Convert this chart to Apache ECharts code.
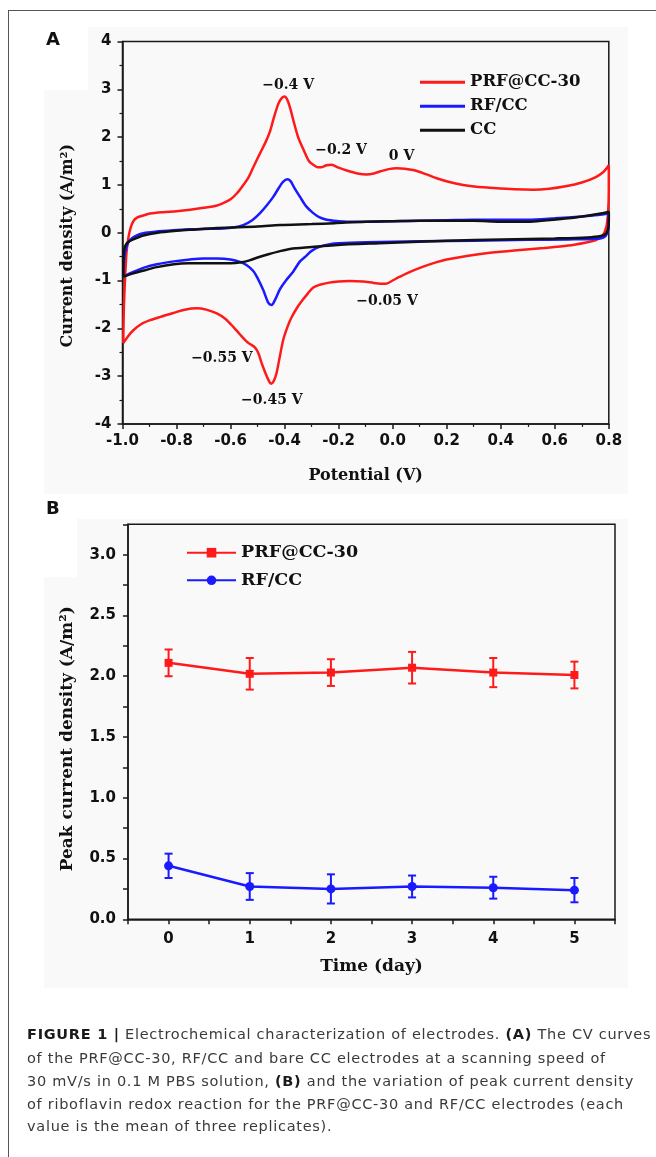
<!DOCTYPE html>
<html>
<head>
<meta charset="utf-8">
<script src="https://cdn.jsdelivr.net/npm/echarts@6/dist/echarts.min.js"></script>
<style>
html,body{margin:0;padding:0;background:#fff;}
#wrap{position:relative;width:656px;height:1157px;overflow:hidden;background:#fff;}
#chart{position:absolute;left:0;top:0;width:656px;height:1157px;}
.frame-top{position:absolute;left:8px;top:10px;width:648px;height:1px;background:#555;}
.frame-left{position:absolute;left:8px;top:10px;width:1px;height:1147px;background:#555;}
.cap{position:absolute;left:27px;white-space:nowrap;font-family:"DejaVu Sans",sans-serif;font-size:14.5px;letter-spacing:0.72px;color:#3a3a3a;line-height:23px;}
.cap b{color:#1a1a1a;}
</style>
</head>
<body>
<div id="wrap">
  <div id="chart"></div>
  <div class="frame-top"></div>
  <div class="frame-left"></div>
  <div class="cap" style="top:1023px"><b>FIGURE 1 |</b> Electrochemical characterization of electrodes. <b>(A)</b> The CV curves</div>
  <div class="cap" style="top:1047px">of the PRF@CC-30, RF/CC and bare CC electrodes at a scanning speed of</div>
  <div class="cap" style="top:1070px">30 mV/s in 0.1 M PBS solution, <b>(B)</b> and the variation of peak current density</div>
  <div class="cap" style="top:1093px">of riboflavin redox reaction for the PRF@CC-30 and RF/CC electrodes (each</div>
  <div class="cap" style="top:1115px">value is the mean of three replicates).</div>
</div>
<script>
// ---------- Panel A: CV curves (potential V, current density A/m^2) ----------
const prfCV = [
  [-0.997,-2.31],[-0.995,-1.6],[-0.99,-0.9],[-0.985,-0.4],[-0.978,-0.1],[-0.97,0.1],[-0.96,0.24],
  [-0.945,0.32],[-0.923,0.36],[-0.898,0.40],[-0.85,0.43],[-0.8,0.45],[-0.75,0.48],[-0.7,0.52],
  [-0.65,0.57],[-0.627,0.62],[-0.6,0.7],[-0.577,0.82],[-0.555,0.98],[-0.534,1.15],[-0.515,1.38],
  [-0.491,1.66],[-0.47,1.9],[-0.454,2.12],[-0.44,2.4],[-0.423,2.7],[-0.41,2.82],[-0.4,2.85],
  [-0.39,2.78],[-0.378,2.58],[-0.368,2.36],[-0.35,2.0],[-0.331,1.75],[-0.31,1.5],[-0.294,1.42],
  [-0.278,1.37],[-0.263,1.37],[-0.245,1.41],[-0.226,1.42],[-0.2,1.36],[-0.17,1.3],[-0.13,1.24],
  [-0.096,1.22],[-0.07,1.24],[-0.047,1.28],[-0.015,1.33],[0.015,1.35],[0.045,1.34],[0.076,1.31],
  [0.12,1.23],[0.163,1.14],[0.21,1.06],[0.261,1.0],[0.31,0.96],[0.36,0.94],[0.45,0.91],[0.52,0.9],
  [0.58,0.92],[0.64,0.97],[0.7,1.05],[0.75,1.16],[0.78,1.27],[0.8,1.41],
  [0.8,0.9],[0.797,0.4],[0.79,0.1],[0.775,-0.08],[0.75,-0.16],[0.72,-0.2],
  [0.65,-0.27],[0.56,-0.32],[0.45,-0.37],[0.36,-0.42],[0.28,-0.48],[0.2,-0.56],[0.16,-0.62],
  [0.113,-0.71],[0.06,-0.83],[0.027,-0.92],[0.0,-1.0],[-0.02,-1.06],[-0.035,-1.07],[-0.07,-1.05],
  [-0.11,-1.02],[-0.16,-1.01],[-0.2,-1.02],[-0.24,-1.05],[-0.27,-1.09],[-0.295,-1.15],[-0.315,-1.28],
  [-0.335,-1.42],[-0.355,-1.58],[-0.375,-1.78],[-0.39,-1.98],[-0.405,-2.24],[-0.418,-2.6],
  [-0.43,-2.94],[-0.44,-3.1],[-0.45,-3.16],[-0.46,-3.08],[-0.47,-2.95],[-0.485,-2.73],[-0.497,-2.52],
  [-0.51,-2.4],[-0.525,-2.34],[-0.54,-2.28],[-0.565,-2.13],[-0.59,-1.97],[-0.62,-1.8],[-0.651,-1.69],
  [-0.69,-1.61],[-0.725,-1.58],[-0.77,-1.61],[-0.812,-1.68],[-0.86,-1.76],[-0.898,-1.83],
  [-0.93,-1.91],[-0.96,-2.04],[-0.98,-2.17],[-0.997,-2.31]
];
const rfCV = [
  [-0.997,-0.92],[-0.995,-0.6],[-0.99,-0.4],[-0.98,-0.22],[-0.966,-0.12],[-0.945,-0.05],[-0.923,-0.01],
  [-0.88,0.02],[-0.812,0.05],[-0.75,0.07],[-0.7,0.08],[-0.627,0.09],[-0.59,0.11],[-0.553,0.16],
  [-0.52,0.26],[-0.491,0.41],[-0.465,0.58],[-0.442,0.75],[-0.42,0.95],[-0.405,1.07],[-0.39,1.12],
  [-0.378,1.08],[-0.365,0.95],[-0.343,0.75],[-0.32,0.55],[-0.294,0.41],[-0.27,0.32],[-0.244,0.27],
  [-0.2,0.24],[-0.17,0.23],[-0.1,0.23],[0.0,0.24],[0.1,0.25],[0.2,0.26],[0.3,0.27],[0.4,0.27],
  [0.5,0.27],[0.6,0.3],[0.7,0.34],[0.76,0.37],[0.8,0.4],
  [0.8,0.2],[0.795,0.0],[0.78,-0.1],[0.74,-0.13],[0.65,-0.14],
  [0.5,-0.15],[0.3,-0.17],[0.1,-0.18],[-0.1,-0.2],[-0.2,-0.22],[-0.232,-0.24],[-0.269,-0.29],
  [-0.3,-0.38],[-0.323,-0.5],[-0.343,-0.6],[-0.369,-0.82],[-0.395,-1.0],[-0.417,-1.18],
  [-0.435,-1.4],[-0.448,-1.51],[-0.46,-1.47],[-0.479,-1.2],[-0.5,-0.95],[-0.516,-0.8],[-0.54,-0.68],
  [-0.565,-0.61],[-0.6,-0.56],[-0.651,-0.54],[-0.7,-0.54],[-0.75,-0.56],[-0.81,-0.6],[-0.873,-0.66],
  [-0.92,-0.73],[-0.96,-0.82],[-0.997,-0.92]
];
const ccCV = [
  [-0.997,-0.92],[-0.997,-0.6],[-0.995,-0.4],[-0.99,-0.28],[-0.98,-0.2],[-0.96,-0.14],[-0.923,-0.06],
  [-0.87,0.0],[-0.8,0.04],[-0.75,0.06],[-0.65,0.1],[-0.5,0.13],[-0.417,0.16],[-0.3,0.18],
  [-0.215,0.2],[-0.1,0.23],[0.0,0.24],[0.1,0.25],[0.2,0.25],[0.3,0.25],[0.4,0.23],[0.5,0.23],
  [0.57,0.26],[0.65,0.3],[0.715,0.35],[0.77,0.4],[0.8,0.44],
  [0.8,0.25],[0.798,0.1],[0.79,-0.02],[0.77,-0.07],[0.72,-0.1],
  [0.6,-0.12],[0.405,-0.14],[0.2,-0.17],[0.095,-0.19],[-0.05,-0.22],[-0.215,-0.26],[-0.3,-0.3],
  [-0.38,-0.34],[-0.42,-0.39],[-0.46,-0.45],[-0.5,-0.52],[-0.53,-0.58],[-0.56,-0.62],[-0.6,-0.64],
  [-0.7,-0.64],[-0.757,-0.64],[-0.81,-0.66],[-0.873,-0.72],[-0.92,-0.79],[-0.96,-0.85],[-0.997,-0.92]
];
const cvNames = ['PRF@CC-30', 'RF/CC', 'CC'];
const annoLabels = ['\u22120.4 V', '\u22120.2 V', '0 V', '\u22120.05 V', '\u22120.55 V', '\u22120.45 V'];
const annoX = [-0.387, -0.191, 0.033, -0.021, -0.632, -0.447];
const annoY = [3.09, 1.73, 1.59, -1.43, -2.63, -3.51];

// ---------- Panel B: peak current density over time ----------
const days = [0, 1, 2, 3, 4, 5];
const prfMean = [2.11, 2.02, 2.03, 2.07, 2.03, 2.01];
const prfErr  = [0.11, 0.13, 0.11, 0.13, 0.12, 0.11];
const rfMean  = [0.44, 0.27, 0.25, 0.27, 0.26, 0.24];
const rfErr   = [0.10, 0.11, 0.12, 0.09, 0.09, 0.10];
const timeNames = ['PRF@CC-30', 'RF/CC'];

const RED = '#ff1a1a', BLUE = '#1a1aff', BLACK = '#111111';
const SERIF = 'DejaVu Serif', SANS = 'DejaVu Sans';

const chart = echarts.init(document.getElementById('chart'), null, {renderer: 'canvas'});

const tickLabel = {fontFamily: SANS, fontWeight: 'bold', fontSize: 15, color: '#111'};
const axisLine = {show: true, onZero: false, lineStyle: {color: '#1a1a1a', width: 1.5}};

function errRender(params, api) {
  const x = api.value(0), lo = api.value(1), hi = api.value(2);
  const pLo = api.coord([x, lo]), pHi = api.coord([x, hi]);
  const cap = 4;
  const style = {stroke: api.visual('color'), lineWidth: 2};
  return {type: 'group', children: [
    {type: 'line', shape: {x1: pLo[0], y1: pLo[1], x2: pHi[0], y2: pHi[1]}, style: style},
    {type: 'line', shape: {x1: pLo[0] - cap, y1: pLo[1], x2: pLo[0] + cap, y2: pLo[1]}, style: style},
    {type: 'line', shape: {x1: pHi[0] - cap, y1: pHi[1], x2: pHi[0] + cap, y2: pHi[1]}, style: style}
  ]};
}

const option = {
  animation: false,
  backgroundColor: 'transparent',
  graphic: [
    {type: 'polygon', z: -10, silent: true,
     shape: {points: [[88,27],[628,27],[628,494],[44,494],[44,90],[88,90]]},
     style: {fill: '#f9f9f9'}},
    {type: 'polygon', z: -10, silent: true,
     shape: {points: [[77,519],[628,519],[628,988],[44,988],[44,577],[77,577]]},
     style: {fill: '#f9f9f9'}},
    {type: 'text', left: 46, top: 31, silent: true,
     style: {text: 'A', fontFamily: SANS, fontWeight: 'bold', fontSize: 18, fill: '#111'}},
    {type: 'text', left: 46, top: 500, silent: true,
     style: {text: 'B', fontFamily: SANS, fontWeight: 'bold', fontSize: 18, fill: '#111'}}
  ],
  grid: [
    {left: 122.5, top: 41.5, width: 486.3, height: 382.4, show: true, borderColor: '#1a1a1a', borderWidth: 1.5},
    {left: 128, top: 524.3, width: 487, height: 395, show: true, borderColor: '#1a1a1a', borderWidth: 1.5}
  ],
  legend: [
    {data: cvNames.map(n => ({name: n, icon: 'rect'})), orient: 'vertical', left: 415, top: 67.7,
     itemWidth: 45, itemHeight: 3, itemGap: 5, selectedMode: false,
     textStyle: {fontFamily: SERIF, fontWeight: 'bold', fontSize: 16.5, color: '#111', lineHeight: 19}},
    {data: timeNames.map(n => 'B:' + n), formatter: n => n.replace('B:', ''), orient: 'vertical',
     left: 181, top: 538.7, itemWidth: 49, itemHeight: 12, itemGap: 9.6, selectedMode: false,
     textStyle: {fontFamily: SERIF, fontWeight: 'bold', fontSize: 17.5, color: '#111'}}
  ],
  xAxis: [
    {type: 'value', gridIndex: 0, min: -1.0, max: 0.8, interval: 0.2,
     axisLine: axisLine, splitLine: {show: false},
     axisTick: {show: true, inside: false, length: 5, lineStyle: {width: 1.5, color: '#1a1a1a'}},
     minorTick: {show: true, splitNumber: 2, length: 3, lineStyle: {width: 1.2, color: '#1a1a1a'}},
     axisLabel: Object.assign({margin: 10, formatter: v => v.toFixed(1)}, tickLabel),
     name: 'Potential (V)', nameLocation: 'middle', nameGap: 44,
     nameTextStyle: {fontFamily: SERIF, fontWeight: 'bold', fontSize: 16, color: '#111'}},
    {type: 'value', gridIndex: 1, min: -0.5, max: 5.5, interval: 0.5,
     axisLine: axisLine, splitLine: {show: false},
     axisTick: {show: true, inside: false, length: 5, lineStyle: {width: 1.5, color: '#1a1a1a'}},
     axisLabel: Object.assign({margin: 12, formatter: v => (Math.abs(v - Math.round(v)) < 1e-6 ? String(Math.round(v)) : '')}, tickLabel),
     name: 'Time (day)', nameLocation: 'middle', nameGap: 39,
     nameTextStyle: {fontFamily: SERIF, fontWeight: 'bold', fontSize: 17, color: '#111'}}
  ],
  yAxis: [
    {type: 'value', gridIndex: 0, min: -4, max: 4, interval: 1,
     axisLine: axisLine, splitLine: {show: false},
     axisTick: {show: true, inside: false, length: 5, lineStyle: {width: 1.5, color: '#1a1a1a'}},
     minorTick: {show: true, splitNumber: 2, length: 3, lineStyle: {width: 1.2, color: '#1a1a1a'}},
     axisLabel: Object.assign({margin: 11}, tickLabel),
     name: 'Current density (A/m\u00b2)', nameLocation: 'middle', nameGap: 47,
     nameTextStyle: {fontFamily: SERIF, fontWeight: 'bold', fontSize: 16, color: '#111', padding: [0, 26, 0, 0]}},
    {type: 'value', gridIndex: 1, min: 0, max: 3.25, interval: 0.25,
     axisLine: axisLine, splitLine: {show: false},
     axisTick: {show: true, inside: false, length: 5, lineStyle: {width: 1.5, color: '#1a1a1a'}},
     axisLabel: Object.assign({margin: 12, formatter: v => (Math.abs(v * 2 - Math.round(v * 2)) < 1e-6 ? v.toFixed(1) : '')}, tickLabel),
     name: 'Peak current density (A/m\u00b2)', nameLocation: 'middle', nameGap: 52,
     nameTextStyle: {fontFamily: SERIF, fontWeight: 'bold', fontSize: 17, color: '#111', padding: [0, 34, 0, 0]}}
  ],
  series: [
    {type: 'line', name: cvNames[0], xAxisIndex: 0, yAxisIndex: 0, data: prfCV, smooth: 0.3,
     symbol: 'none', z: 2, lineStyle: {color: RED, width: 2.5}, itemStyle: {color: RED}},
    {type: 'line', name: cvNames[1], xAxisIndex: 0, yAxisIndex: 0, data: rfCV, smooth: 0.3,
     symbol: 'none', z: 3, lineStyle: {color: BLUE, width: 2.5}, itemStyle: {color: BLUE}},
    {type: 'line', name: cvNames[2], xAxisIndex: 0, yAxisIndex: 0, data: ccCV, smooth: 0.3,
     symbol: 'none', z: 4, lineStyle: {color: BLACK, width: 2.5}, itemStyle: {color: BLACK}},
    {type: 'scatter', xAxisIndex: 0, yAxisIndex: 0, silent: true, z: 5,
     symbolSize: 0.01, itemStyle: {color: '#111', opacity: 1},
     data: annoLabels.map((t, i) => ({name: t, value: [annoX[i], annoY[i]]})),
     label: {show: true, position: 'inside', formatter: '{b}', textBorderWidth: 0, opacity: 1,
             fontFamily: SERIF, fontWeight: 'bold', fontSize: 14, color: '#111'}},
    {type: 'custom', xAxisIndex: 1, yAxisIndex: 1, renderItem: errRender, z: 2,
     itemStyle: {color: RED}, encode: {x: 0, y: [1, 2]},
     data: days.map((d, i) => [d, prfMean[i] - prfErr[i], prfMean[i] + prfErr[i]])},
    {type: 'custom', xAxisIndex: 1, yAxisIndex: 1, renderItem: errRender, z: 2,
     itemStyle: {color: BLUE}, encode: {x: 0, y: [1, 2]},
     data: days.map((d, i) => [d, rfMean[i] - rfErr[i], rfMean[i] + rfErr[i]])},
    {type: 'line', name: 'B:' + timeNames[0], xAxisIndex: 1, yAxisIndex: 1, z: 3,
     data: days.map((d, i) => [d, prfMean[i]]), symbol: 'rect', symbolSize: 8,
     lineStyle: {color: RED, width: 2.5}, itemStyle: {color: RED}},
    {type: 'line', name: 'B:' + timeNames[1], xAxisIndex: 1, yAxisIndex: 1, z: 3,
     data: days.map((d, i) => [d, rfMean[i]]), symbol: 'circle', symbolSize: 9,
     lineStyle: {color: BLUE, width: 2.5}, itemStyle: {color: BLUE}}
  ]
};
chart.setOption(option);
</script>
</body>
</html>
